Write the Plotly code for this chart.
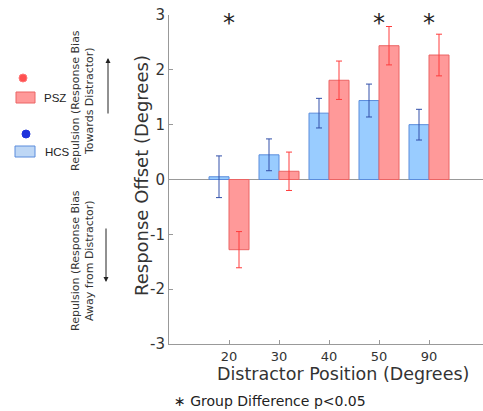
import plotly.graph_objects as go

categories = ["20", "30", "40", "50", "90"]
hcs_values = [0.05, 0.45, 1.21, 1.44, 1.00]
hcs_errors = [0.38, 0.29, 0.27, 0.30, 0.28]
psz_values = [-1.28, 0.15, 1.81, 2.44, 2.27]
psz_errors = [0.33, 0.35, 0.35, 0.35, 0.38]
significant = ["20", "50", "90"]
y_ticks = [-3, -2, -1, 0, 1, 2, 3]
y_tick_labels = ["-3", "-2", "-1", "0", "1", "2", "3"]

W, H = 483, 411
L, R, T, B = 169, 0, 15, 67
PW, PH = W - L - R, H - T - B


def px(x):
    return (x - L) / PW


def py(y):
    return (H - B - y) / PH


FONT = "DejaVu Sans"
xpos = list(range(len(categories)))

fig = go.Figure()
fig.add_trace(go.Bar(
    x=xpos, y=hcs_values, name="HCS",
    marker=dict(color="rgb(153,204,255)", line=dict(color="rgb(90,140,220)", width=1)),
    error_y=dict(type="data", array=hcs_errors, color="rgb(50,80,170)", thickness=1, width=3),
))
fig.add_trace(go.Bar(
    x=xpos, y=psz_values, name="PSZ",
    marker=dict(color="rgb(255,153,153)", line=dict(color="rgb(235,100,100)", width=1)),
    error_y=dict(type="data", array=psz_errors, color="rgb(255,60,60)", thickness=1, width=3),
))


def note(x, y, text, size, angle=0, xanchor="center", color="#333", family=FONT):
    return dict(x=px(x), y=py(y), xref="paper", yref="paper", text=text, textangle=angle,
                xanchor=xanchor, yanchor="middle", showarrow=False,
                font=dict(family=family, size=size, color=color))


annotations = []
for c in significant:
    annotations.append(dict(x=categories.index(c), y=2.85, xref="x", yref="y", text="*",
                            xanchor="center", yanchor="middle",
                            showarrow=False, font=dict(family=FONT, size=24, color="#222")))

annotations.append(note(141, 176, "Response Offset (Degrees)", 18, angle=-90))
annotations.append(note(343, 374, "Distractor Position (Degrees)", 17.5))
annotations.append(note(172, 401, "∗ Group Difference p<0.05", 14, xanchor="left", color="#222"))
annotations.append(note(82, 101, "Repulsion (Response Bias<br>Towards Distractor)", 11, angle=-90))
annotations.append(note(82, 261, "Repulsion (Response Bias<br>Away from Distractor)", 11, angle=-90))
annotations.append(note(42, 98, "PSZ", 11.5, xanchor="left", color="#222", family="Liberation Sans"))
annotations.append(note(43, 152, "HCS", 11.5, xanchor="left", color="#222", family="Liberation Sans"))
# arrows
annotations.append(dict(x=px(108), y=py(58), xref="paper", yref="paper", ax=0, ay=57, text="",
                        showarrow=True, arrowhead=2, arrowsize=1, arrowwidth=1, arrowcolor="#222"))
annotations.append(dict(x=px(106), y=py(282), xref="paper", yref="paper", ax=0, ay=-55, text="",
                        showarrow=True, arrowhead=2, arrowsize=1, arrowwidth=1, arrowcolor="#222"))

shapes = [
    dict(type="circle", xref="paper", yref="paper", x0=px(19), x1=px(27), y0=py(82), y1=py(74),
         fillcolor="rgb(255,80,80)", line=dict(color="rgb(255,120,120)", width=1)),
    dict(type="rect", xref="paper", yref="paper", x0=px(16), x1=px(35), y0=py(103), y1=py(92),
         fillcolor="rgb(255,153,153)", line=dict(color="rgb(235,100,100)", width=1)),
    dict(type="circle", xref="paper", yref="paper", x0=px(22), x1=px(30), y0=py(138), y1=py(130),
         fillcolor="rgb(30,50,220)", line=dict(color="rgb(30,50,220)", width=1)),
    dict(type="rect", xref="paper", yref="paper", x0=px(15), x1=px(35), y0=py(157), y1=py(146),
         fillcolor="rgb(190,215,245)", line=dict(color="rgb(90,140,220)", width=1)),
]

fig.update_layout(
    width=W, height=H, margin=dict(l=L, r=R, t=T, b=B),
    paper_bgcolor="white", plot_bgcolor="white",
    barmode="group", bargap=0.2, bargroupgap=0,
    showlegend=False,
    annotations=annotations, shapes=shapes,
    font=dict(family=FONT, color="#333"),
    xaxis=dict(range=[-1.2, 5.08], tickmode="array", tickvals=xpos, ticktext=categories,
               showline=True, linecolor="#999", linewidth=1, ticks="inside", ticklen=4, tickcolor="#999",
               showgrid=False, zeroline=False, tickfont=dict(size=13, color="#333")),
    yaxis=dict(range=[-3, 3], tickmode="array", tickvals=y_ticks, ticktext=y_tick_labels,
               showline=True, linecolor="#999", linewidth=1, ticks="inside", ticklen=4, tickcolor="#999",
               showgrid=False, zeroline=True, zerolinecolor="#999", zerolinewidth=1,
               tickfont=dict(size=15, color="#333")),
)

fig.write_html("out.html", config={"displayModeBar": False},
               post_script="document.body.style.margin='0';")
